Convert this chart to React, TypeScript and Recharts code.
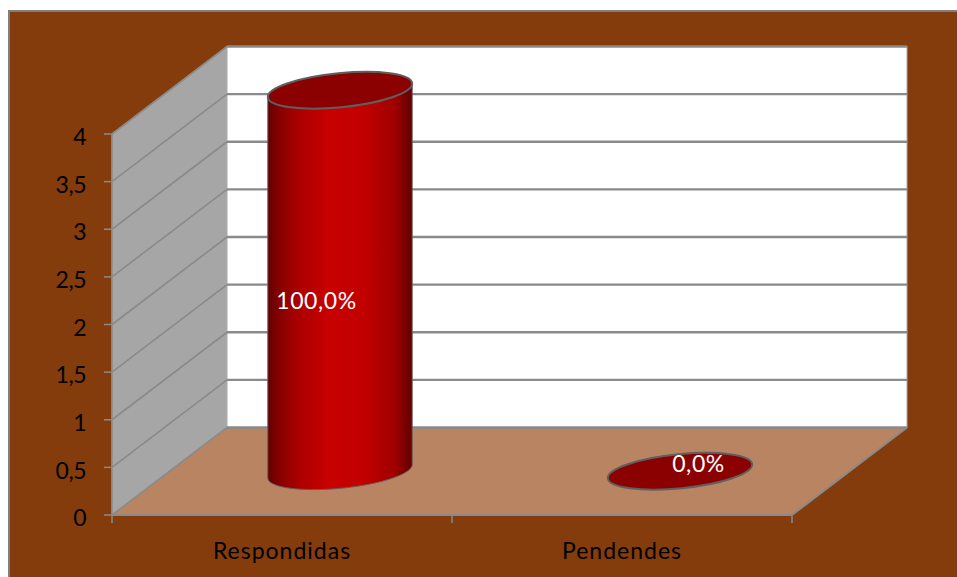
import React from "react";
import { BarChart, Bar, XAxis, YAxis, CartesianGrid, ReferenceArea, LabelList } from "recharts";

const categories = ["Respondidas", "Pendendes"];
const values = [4, 0];
const valueLabels = ["100,0%", "0,0%"];
const yTicks = [0, 0.5, 1, 1.5, 2, 2.5, 3, 3.5, 4];

const rows = categories.map((name, i) => ({ name, value: values[i], label: valueLabels[i] }));

const DX = 115;
const DY = -87.5;
const BG = "#843C0C";
const WALL = "#A6A6A6";
const FLOOR = "#B88461";
const GRID = "#8A8A8A";
const FONT = "Lato, Carlito, Calibri, sans-serif";
const TILT = -5.6;
const RY = 17;

const Scene = (p: any) => {
  const { x, y, width: w, height: h } = p;
  const b = y + h;
  const n = categories.length;
  return (
    <g>
      <polygon points={`${x},${y} ${x + DX},${y + DY} ${x + DX},${b + DY} ${x},${b}`} fill={WALL} stroke="#B0B0B0" strokeWidth={1} />
      <rect x={x + DX} y={y + DY} width={w} height={h} fill="#FFFFFF" stroke="#A8A8A8" strokeWidth={1} />
      <polygon points={`${x},${b} ${x + w},${b} ${x + w + DX},${b + DY} ${x + DX},${b + DY}`} fill={FLOOR} />
      <line x1={x} y1={b} x2={x + DX} y2={b + DY} stroke="#A8A8A8" strokeWidth={1} />
      <line x1={x + DX} y1={b + DY} x2={x + w + DX} y2={b + DY} stroke="#A8A8A8" strokeWidth={1} />
      <line x1={x + w} y1={b} x2={x + w + DX} y2={b + DY} stroke={GRID} strokeWidth={2} />
      {Array.from({ length: n + 1 }, (_, i) => {
        const tx = x + (w * i) / n;
        return <line key={i} x1={tx} y1={b} x2={tx} y2={b + 8} stroke={GRID} strokeWidth={1.5} />;
      })}
    </g>
  );
};

const GridLine = (p: any) => {
  const { x1, y1, x2, y2 } = p;
  return (
    <g>
      <line x1={x1} y1={y1} x2={x1 + DX} y2={y1 + DY} stroke={GRID} strokeWidth={1.6} />
      <line x1={x1 + DX} y1={y1 + DY} x2={x2 + DX} y2={y2 + DY} stroke={GRID} strokeWidth={2.4} />
    </g>
  );
};

const Cylinder = (p: any) => {
  const { x, y, width, height } = p;
  const rx = width / 2;
  const cx = x + rx + DX / 2;
  const top = y + DY / 2;
  const bot = y + height + DY / 2;
  const th = (TILT * Math.PI) / 180;
  const t0 = Math.atan(-(RY / rx) * Math.tan(th));
  const at = (t: number, cy: number) => [
    cx + rx * Math.cos(t) * Math.cos(th) - RY * Math.sin(t) * Math.sin(th),
    cy + rx * Math.cos(t) * Math.sin(th) + RY * Math.sin(t) * Math.cos(th),
  ];
  const pts: number[][] = [at(t0, top)];
  for (let i = 0; i <= 60; i++) pts.push(at(t0 + (Math.PI * i) / 60, bot));
  pts.push(at(t0 + Math.PI, top));
  const rot = `rotate(${TILT} ${cx} ${top})`;
  return (
    <g>
      {height > 0 && (
        <polygon points={pts.map((q) => q.join(",")).join(" ")} fill="url(#cyl)" stroke="#6A5A5A" strokeWidth={1} />
      )}
      <ellipse cx={cx} cy={top} rx={rx} ry={RY} transform={rot} fill="#8B0000" stroke="#5F5F5F" strokeWidth={2} />
    </g>
  );
};

const ValueLabel = (p: any) => {
  const { x, y, width, height, value } = p;
  const full = height > 0;
  return (
    <text
      x={x + width / 2 + (full ? 34 : 76)}
      y={y + height / 2 + (full ? -24.5 : -52)}
      fill="#FFFFFF"
      fontFamily={FONT}
      fontSize={23}
      letterSpacing={0.6}
      textAnchor="middle"
      dominantBaseline="central"
    >
      {value}
    </text>
  );
};

export default function App() {
  return (
    <div style={{ position: "absolute", left: 8, top: 10, width: 949, height: 567, overflow: "hidden", background: BG }}>
      <BarChart width={949} height={567} data={rows} margin={{ top: 124, right: 165, bottom: 0, left: 0 }} barSize={145}>
        <defs>
          <linearGradient id="cyl" x1="0" y1="0" x2="1" y2="0">
            <stop offset="0" stopColor="#640000" />
            <stop offset="0.08" stopColor="#860000" />
            <stop offset="0.22" stopColor="#AC0000" />
            <stop offset="0.42" stopColor="#C80000" />
            <stop offset="0.66" stopColor="#C20000" />
            <stop offset="0.88" stopColor="#A00000" />
            <stop offset="1" stopColor="#600000" />
          </linearGradient>
        </defs>
        <ReferenceArea y1={0} y2={4} shape={Scene} ifOverflow="visible" zIndex={-200} />
        <CartesianGrid vertical={false} horizontal={GridLine} zIndex={50} />
        <XAxis
          dataKey="name"
          height={62}
          tickLine={false}
          axisLine={{ stroke: GRID, strokeWidth: 2 }}
          tick={{ fill: "#000000", fontFamily: FONT, fontSize: 23, letterSpacing: 1 }}
          tickMargin={22}
        />
        <YAxis
          width={104}
          domain={[0, 4]}
          ticks={yTicks}
          interval={0}
          tickSize={8}
          tickMargin={18}
          axisLine={{ stroke: GRID, strokeWidth: 1.5 }}
          tickLine={{ stroke: GRID, strokeWidth: 1.5 }}
          tick={{ fill: "#000000", fontFamily: FONT, fontSize: 23, letterSpacing: -0.5, dy: 3 }}
          tickFormatter={(v: number) => String(v).replace(".", ",")}
        />
        <Bar dataKey="value" shape={Cylinder} isAnimationActive={false}>
          <LabelList dataKey="label" content={ValueLabel} />
        </Bar>
      </BarChart>
      <div style={{ position: "absolute", left: 0, top: 0, right: 0, height: 2, background: "#7F7F7F" }} />
      <div style={{ position: "absolute", left: 0, top: 0, bottom: 0, width: 2, background: "#7F7F7F" }} />
    </div>
  );
}
